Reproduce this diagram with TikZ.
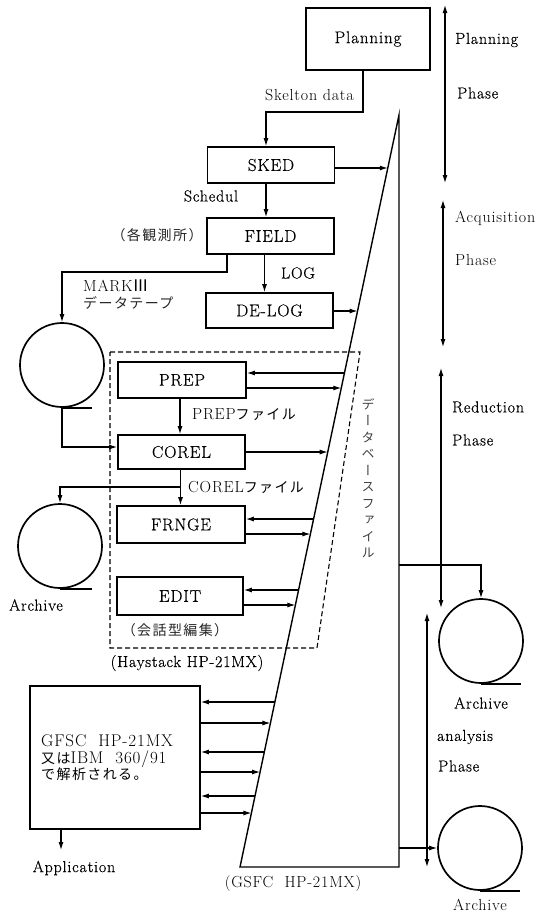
\documentclass[tikz,border=0pt]{standalone}
\usepackage{fontspec}
\setmainfont{Latin Modern Roman}[LetterSpace=5]
\newfontface\heavy{Latin Modern Roman}[LetterSpace=5,FakeBold=0.5]
\newfontfamily\jp{Noto Sans CJK JP}[LetterSpace=10]
\newfontfamily\jpv{Noto Sans CJK JP}[RawFeature=+vert]
\usetikzlibrary{arrows.meta,calc}

% point on the slanted edge of the database wedge at a given height
\newcommand\slantpt[2]{\coordinate (#1) at ($(dbbl)!{(867-#2)/752}!(dbtop)$);}

\begin{document}
\begin{tikzpicture}[x=1pt,y=-1pt,
  box/.style={draw,line width=1.7pt,minimum width=127pt,minimum height=36pt,
    inner sep=0pt,font=\heavy\fontsize{17}{19}\selectfont},
  conn/.style={line width=1.1pt},
  arr/.style={conn,-{Latex[length=8pt,width=5pt]}},
  twoway/.style={conn,{Latex[length=8pt,width=5pt]}-{Latex[length=8pt,width=5pt]}},
  tape/.style={draw,circle,line width=1.7pt,minimum size=84pt,inner sep=0pt},
  reel/.style={line width=1.7pt},
  lbl/.style={inner sep=0pt,font=\fontsize{16}{18}\selectfont},
  hlbl/.style={inner sep=0pt,font=\heavy\fontsize{16}{18}\selectfont},
  jlbl/.style={inner sep=0pt,text=black!85,font=\jp\fontsize{14}{16}\selectfont},
]
\useasboundingbox (0,0) rectangle (542,916);

% ---- database wedge ----
\coordinate (dbtop) at (399,115);
\coordinate (dbbl) at (240,867);
\coordinate (dbbr) at (399,867);
\draw[line width=1.4pt] (dbtop) -- (dbbl) -- (dbbr) -- cycle;
\node[inner sep=0pt,align=center,text=black!75,font=\jpv\fontsize{13}{16.5}\selectfont] (dbname) at (368,478)
  {デ\\ー\\タ\\ベ\\ー\\ス\\フ\\ァ\\イ\\ル};
\node[lbl] (gsfc) at (293,883) {(GSFC\ \ HP-21MX)};

% ---- Haystack frame ----
\draw[conn,dash pattern=on 5pt off 3pt] (110,352) -- (360,352) -- (317,648) -- (110,648) -- cycle;
\node[hlbl] (haystack) at (187,663) {(Haystack HP-21MX)};

% ---- processing boxes ----
\node[box,minimum width=124pt,minimum height=62pt] (planning) at (368,39) {Planning};
\node[box] (sked)  at (271,165)   {SKED};
\node[box] (field) at (270.5,236) {FIELD};
\node[box,minimum height=35pt] (delog) at (269.5,310.5) {DE-LOG};
\node[box,minimum width=128pt] (prep)  at (182,380)   {PREP};
\node[box,minimum height=34pt] (corel) at (181.5,452) {COREL};
\node[box,minimum width=128pt,minimum height=37pt] (frnge) at (181,524.5) {FRNGE};
\node[box,minimum width=126pt,minimum height=38pt] (edit)  at (180,596)   {EDIT};
\node[jlbl] (editnote) at (175,630) {（会話型編集）};

\node[draw,line width=1.7pt,minimum width=170pt,minimum height=143pt,inner sep=0pt] (gfscbox) at (115,757.5) {};
\node[inner sep=0pt,anchor=west,align=left,font=\fontsize{17}{16.5}\selectfont] (gfsctext) at (41,758)
  {GFSC\ \ HP-21MX\\{\jp\fontsize{14}{16.5}\selectfont 又は}IBM\ \ 360/91\\{\jp\fontsize{14}{16.5}\selectfont で解析される。}};

% ---- tape reels ----
\node[tape] (tapeA) at (62,365) {};
\node[tape] (tapeB) at (60,546) {};
\node[tape] (tapeC) at (481,641) {};
\node[tape] (tapeD) at (480,848) {};
\draw[reel] (tapeA.south) -- ++(30,0);
\draw[reel] (tapeB.south) -- ++(32,0);
\draw[reel] (tapeC.south) -- ++(40,0);
\draw[reel] (tapeD.south) -- ++(40,0);
\node[hlbl] (archB) at (36,605) {Archive};
\node[hlbl] (archC) at (481,703) {Archive};
\node[lbl] (archD) at (480,905) {Archive};

% ---- main flow ----
\coordinate (k1) at (363,112);
\draw[arr] (planning.south -| k1) -- (k1) -| ([xshift=-5pt]sked.north);
\node[lbl,anchor=east] (skellbl) at (354,95) {Skelton data};

\draw[arr] ([xshift=-5pt]sked.south) -- ([xshift=-5pt]sked.south |- field.north);
\node[hlbl] (schlbl) at (211,196) {Schedul};
\node[jlbl] (fieldnote) at (157,235) {（各観測所）};

\draw[arr] ([xshift=-6pt]field.south) -- ([xshift=-6pt]field.south |- delog.north);
\node[hlbl] (loglbl) at (298,273) {LOG};

\coordinate (m1) at (227,272);
\draw[arr] (field.south -| m1) -- (m1) -| (tapeA.north);
\node[lbl,anchor=west] (marklbl) at (83,286) {MARK{\jp Ⅲ}};
\node[jlbl,anchor=west] (tapelbl) at (83,303) {データテープ};

\draw[arr] (tapeA.south) |- ([yshift=5pt]corel.west);

\draw[arr] ([xshift=-2pt]prep.south) -- ([xshift=-2pt]prep.south |- corel.north);
\node[lbl,anchor=west] (preplbl) at (192,415) {PREP{\jp\fontsize{14}{16}\selectfont ファイル}};

\draw[arr] ([xshift=-1pt]corel.south) -- ([xshift=-1pt]corel.south |- frnge.north);
\coordinate (c1) at (180.5,487);
\draw[arr] (c1) -| (tapeB.north);
\node[lbl,anchor=west] (corellbl) at (188,487) {COREL{\jp\fontsize{14}{16}\selectfont ファイル}};

% ---- links to the database ----
\slantpt{s1}{168}  \draw[arr] (sked.east |- s1) -- (s1);
\slantpt{s2}{311}  \draw[arr] (delog.east |- s2) -- (s2);
\slantpt{s3}{373}  \draw[arr] (s3) -- (prep.east |- s3);
\slantpt{s4}{388}  \draw[arr] (prep.east |- s4) -- (s4);
\slantpt{s5}{452}  \draw[arr] (corel.east |- s5) -- (s5);
\slantpt{s6}{519}  \draw[arr] (s6) -- (frnge.east |- s6);
\slantpt{s7}{534}  \draw[arr] (frnge.east |- s7) -- (s7);
\slantpt{s8}{590}  \draw[arr] (s8) -- (edit.east |- s8);
\slantpt{s9}{605}  \draw[arr] (edit.east |- s9) -- (s9);
\slantpt{g1}{702}  \draw[arr] (g1) -- (gfscbox.east |- g1);
\slantpt{g2}{723}  \draw[arr] (gfscbox.east |- g2) -- (g2);
\slantpt{g3}{752}  \draw[arr] (g3) -- (gfscbox.east |- g3);
\slantpt{g4}{772}  \draw[arr] (gfscbox.east |- g4) -- (g4);
\slantpt{g5}{796}  \draw[arr] (g5) -- (gfscbox.east |- g5);
\slantpt{g6}{813}  \draw[arr] (gfscbox.east |- g6) -- (g6);

\coordinate (r1) at (399,565);
\draw[arr] (r1) -| (tapeC.north);
\draw[arr] (dbbr |- tapeD.west) -- (tapeD.west);

\coordinate (ap) at (61,850);
\draw[arr] (gfscbox.south -| ap) -- (ap);
\node[hlbl] (applbl) at (74,868) {Application};

% ---- phase markers ----
\coordinate (p1a) at (445,5);   \coordinate (p1b) at (445,183);
\coordinate (p2a) at (443,200); \coordinate (p2b) at (443,347);
\coordinate (p3a) at (441,368); \coordinate (p3b) at (441,608);
\coordinate (p4a) at (427,613); \coordinate (p4b) at (427,867);
\draw[twoway] (p1a) -- (p1b);
\draw[twoway] (p2a) -- (p2b);
\draw[twoway] (p3a) -- (p3b);
\draw[twoway] (p4a) -- (p4b);
\node[hlbl,anchor=west] (ph1) at (455,40)  {Planning};
\node[hlbl,anchor=west] (ph1b) at (457,93) {Phase};
\node[lbl,anchor=west] (ph2) at (455,218) {Acquisition};
\node[lbl,anchor=west] (ph2b) at (455,260) {Phase};
\node[hlbl,anchor=west] (ph3) at (452,407) {Reduction};
\node[hlbl,anchor=west] (ph3b) at (452,440) {Phase};
\node[hlbl,anchor=west] (ph4) at (437,737) {analysis};
\node[hlbl,anchor=west] (ph4b) at (438,766) {Phase};
\end{tikzpicture}
\end{document}
